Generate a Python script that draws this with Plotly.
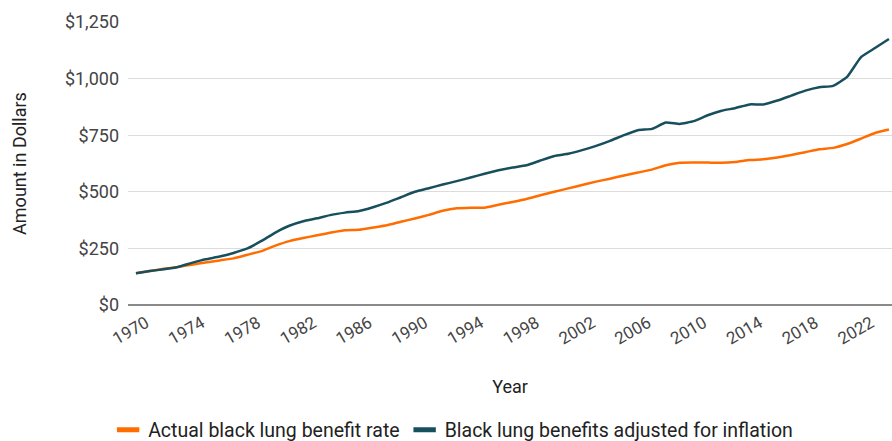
import plotly.graph_objects as go

years = list(range(1970, 2025))

actual_rate = [
    140, 150, 160, 168, 178, 188, 197, 206, 222, 238,
    262, 282, 296, 308, 320, 330, 332, 342, 352, 368,
    382, 398, 416, 427, 430, 430, 443, 455, 468, 485,
    500, 515, 530, 545, 558, 572, 585, 598, 617, 628,
    629, 629, 628, 632, 640, 644, 652, 663, 675, 688,
    694, 711, 735, 760, 775,
]

inflation_adjusted = [
    140, 150, 158, 168, 186, 202, 214, 230, 250, 283,
    320, 350, 370, 383, 398, 408, 415, 432, 452, 476,
    500, 516, 532, 547, 563, 580, 595, 607, 617, 638,
    658, 668, 684, 703, 725, 750, 772, 778, 806, 800,
    812, 838, 858, 870, 886, 886, 903, 925, 947, 962,
    968, 1008, 1095, 1135, 1175,
]

series_names = ["Actual black lung benefit rate", "Black lung benefits adjusted for inflation"]
series_colors = ["#ff6d01", "#174f5c"]

tick_years = list(range(1970, 2023, 4))
y_ticks = [0, 250, 500, 750, 1000, 1250]
y_tick_labels = ["$0", "$250", "$500", "$750", "$1,000", "$1,250"]

FONT = "Roboto, Arial, sans-serif"

fig = go.Figure()
for vals, name, color in zip([actual_rate, inflation_adjusted], series_names, series_colors):
    fig.add_trace(go.Scatter(
        x=years, y=vals, mode="lines", name=name,
        line=dict(color=color, width=2.5, shape="spline", smoothing=0.4),
        showlegend=False,
    ))
    fig.add_trace(go.Scatter(
        x=[None], y=[None], mode="markers", name=name,
        marker=dict(symbol="line-ew", size=18, line=dict(color=color, width=6)),
        showlegend=True,
    ))

fig.update_layout(
    width=892, height=441,
    margin=dict(l=128, r=0, t=22, b=136, autoexpand=False),
    paper_bgcolor="white", plot_bgcolor="white",
    font=dict(family=FONT, size=18, color="#444444"),
    showlegend=True,
    legend=dict(
        orientation="h", xref="container", yref="container",
        x=0.508, xanchor="center", y=0.025, yanchor="middle",
        font=dict(family=FONT, size=19.5, color="#222222"),
        itemwidth=30,
    ),
    xaxis=dict(
        range=[1969.43, 2024.22], automargin=False,
        tickmode="array", tickvals=tick_years, ticktext=[str(y) for y in tick_years],
        tickangle=-30, showgrid=False, zeroline=False, showline=False,
        ticks="", tickfont=dict(size=17, color="#444444"),
        ticklabelstandoff=4, ticklabelshift=10,
        title=dict(text="Year", font=dict(size=18, color="#222222"), standoff=32),
    ),
    yaxis=dict(
        range=[0, 1250], automargin=False,
        tickmode="array", tickvals=y_ticks, ticktext=y_tick_labels,
        showgrid=True, gridcolor="#dcdcdc", gridwidth=1,
        zeroline=True, zerolinecolor="#8a8a8a", zerolinewidth=2,
        showline=False, ticks="", ticklen=0,
        ticklabelstandoff=8,
        tickfont=dict(size=18, color="#444444"),
        title=dict(text="Amount in Dollars", font=dict(size=18, color="#222222"), standoff=33),
    ),
)

fig.write_html(
    "out.html",
    config={"displayModeBar": False},
    post_script="document.body.style.margin='0';document.body.style.overflow='hidden';",
)
